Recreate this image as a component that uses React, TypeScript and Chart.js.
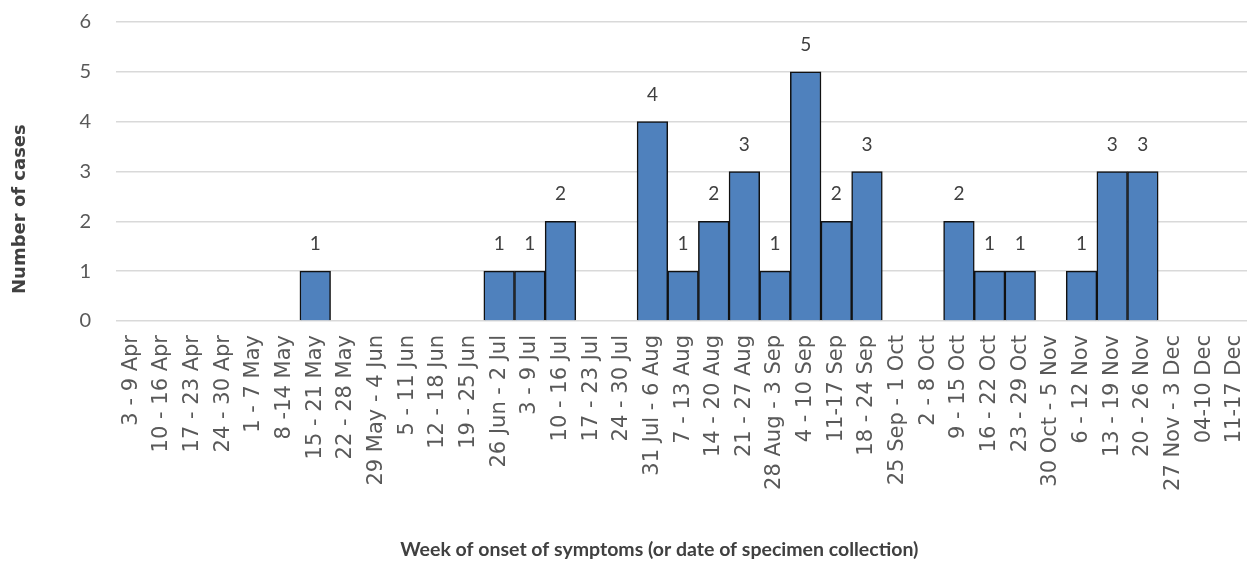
import React, { useEffect, useRef } from "react";
import { Chart, registerables } from "chart.js";

Chart.register(...registerables);

const categories: string[] = [
  "3 - 9 Apr", "10 - 16 Apr", "17 - 23 Apr", "24 - 30 Apr", "1 - 7 May", "8 -14 May",
  "15 - 21 May", "22 - 28 May", "29 May - 4 Jun", "5 - 11 Jun", "12 - 18 Jun", "19 - 25 Jun",
  "26 Jun - 2 Jul", "3 - 9 Jul", "10 - 16 Jul", "17 - 23 Jul", "24 - 30 Jul", "31 Jul - 6 Aug",
  "7 - 13 Aug", "14 - 20 Aug", "21 - 27 Aug", "28 Aug - 3 Sep", "4 - 10 Sep", "11-17 Sep",
  "18 - 24 Sep", "25 Sep - 1 Oct", "2 - 8 Oct", "9 - 15 Oct", "16 - 22 Oct", "23 - 29 Oct",
  "30 Oct - 5 Nov", "6 - 12 Nov", "13 - 19 Nov", "20 - 26 Nov", "27 Nov - 3 Dec", "04-10 Dec",
  "11-17 Dec",
];

const cases: (number | null)[] = [
  null, null, null, null, null, null,
  1, null, null, null, null, null,
  1, 1, 2, null, null, 4,
  1, 2, 3, 1, 5, 2,
  3, null, null, 2, 1, 1,
  null, 1, 3, 3, null, null,
  null,
];

const yTicks: number[] = [0, 1, 2, 3, 4, 5, 6];

const FONT = "Lato, 'Open Sans', sans-serif";
const WIDE = "'DejaVu Sans', sans-serif";
const TEXT = "#595959";

const valueLabels = {
  id: "valueLabels",
  afterDatasetsDraw(chart: any) {
    const ctx = chart.ctx;
    const meta = chart.getDatasetMeta(0);
    ctx.save();
    ctx.font = `19px ${FONT}`;
    ctx.fillStyle = "#404040";
    ctx.textAlign = "center";
    ctx.textBaseline = "middle";
    meta.data.forEach((bar: any, i: number) => {
      const v = cases[i];
      if (v == null) return;
      ctx.fillText(String(v), bar.x, bar.y - 27);
    });
    ctx.restore();
  },
};

export default function App() {
  const ref = useRef<HTMLCanvasElement>(null);
  useEffect(() => {
    document.body.style.margin = "0";
    const chart = new Chart(ref.current!, {
      type: "bar",
      data: {
        labels: categories,
        datasets: [
          {
            data: cases,
            backgroundColor: "#4F81BD",
            borderColor: "#111111",
            borderWidth: 1.5,
            categoryPercentage: 1,
            barPercentage: 1,
          },
        ],
      },
      options: {
        animation: false,
        responsive: false,
        layout: { padding: { top: 22, right: 0, bottom: 0, left: 0 } },
        plugins: { legend: { display: false }, tooltip: { enabled: false } },
        scales: {
          x: {
            grid: { display: false },
            border: { display: false },
            ticks: {
              color: TEXT,
              font: { size: 21, family: WIDE },
              minRotation: 90,
              maxRotation: 90,
              autoSkip: false,
              padding: 6,
            },
            title: {
              display: true,
              text: "Week of onset of symptoms (or date of specimen collection)" + "          ",
              color: "#404040",
              font: { size: 19.5, weight: "bold", family: FONT },
              padding: { top: 0, bottom: 0 },
            },
            afterFit: (s: any) => {
              s.height = 240;
            },
          },
          y: {
            min: 0,
            max: 6,
            afterBuildTicks: (s: any) => {
              s.ticks = yTicks.map((v) => ({ value: v }));
            },
            grid: {
              color: "#D9D9D9",
              lineWidth: 1.5,
              drawTicks: true,
              tickLength: 20,
              tickColor: "rgba(0,0,0,0)",
            },
            border: { display: false },
            ticks: {
              color: TEXT,
              font: { size: 20, family: FONT },
              padding: 5,
            },
            title: {
              display: true,
              text: "Number of cases" + "            ",
              color: "#404040",
              font: { size: 18, weight: "bold", family: WIDE },
              padding: { top: 10, bottom: 0 },
            },
            afterFit: (s: any) => {
              s.width = 116;
            },
          },
        },
      },
      plugins: [valueLabels],
    });
    return () => chart.destroy();
  }, []);
  return (
    <div style={{ position: "absolute", left: 0, top: 0, width: 1247, height: 561, overflow: "hidden" }}>
      <canvas ref={ref} width={1266} height={561} />
    </div>
  );
}
